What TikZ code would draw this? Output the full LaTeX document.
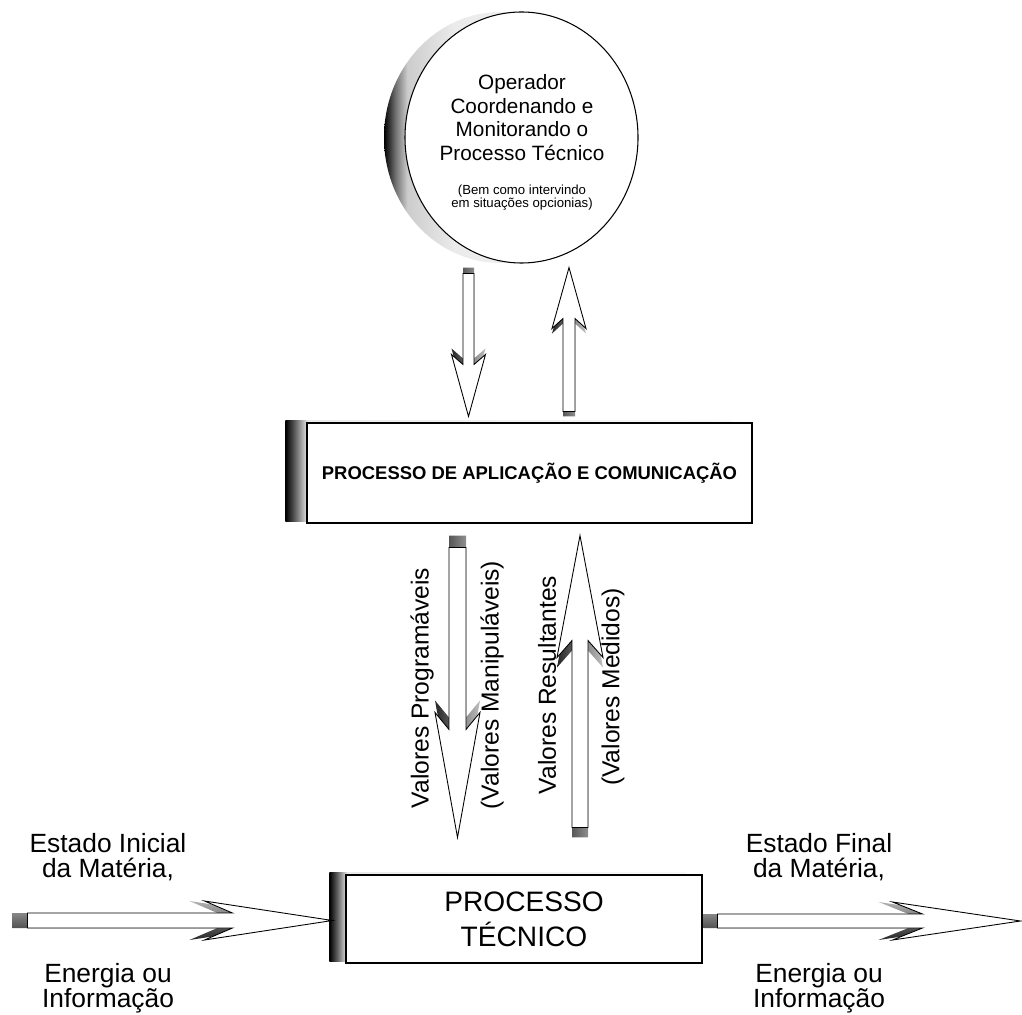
\documentclass[tikz,border=0pt]{standalone}
\usepackage{fontspec}
\setmainfont{Liberation Sans}
\usetikzlibrary{calc}
\usetikzlibrary{shapes.geometric}
\usetikzlibrary{backgrounds}

\pgfdeclarehorizontalshading{boxshade}{100bp}{color(0bp)=(black); color(25bp)=(black); color(26bp)=(black!65); color(27.5bp)=(black!8); color(100bp)=(white)}
\pgfdeclarehorizontalshading{moonshade}{100bp}{color(0bp)=(black); color(25bp)=(black); color(27.5bp)=(black!55); color(30bp)=(black!20); color(40bp)=(black!8); color(100bp)=(white)}

\tikzset{
  boxnode/.style={shape=rectangle, draw=black, fill=white, line width=0.6pt, inner sep=0pt, align=center},
  arrowbody/.style={draw=black, fill=white, line width=0.5pt},
  vshade/.style={left color=black!85, right color=black!25},
  hshade/.style={top color=black!30, bottom color=black!85},
  sidelbl/.style={font=\fontsize{15}{14.2}\selectfont, align=center, inner sep=0pt},
  vlbl/.style={font=\fontsize{14}{16}\selectfont, rotate=90, inner sep=0pt}
}

%% block arrow: from, to, shaft half, head half, head length, barb joint, shadow options
\newcommand{\blockarrow}[7]{%
  \coordinate (ba-h) at ($(#2)!#5!(#1)$);
  \coordinate (ba-j) at ($(#2)!#6!(#1)$);
  \path[#7] ($(#1)!#3!90:(#2)$) -- ($(ba-j)!#3!90:(#2)$) -- ($(ba-h)!#4!90:(#2)$) -- (#2) -- ($(ba-h)!#4!-90:(#2)$) -- ($(ba-j)!#3!-90:(#2)$) -- ($(#1)!#3!-90:(#2)$) -- cycle;
  \path[arrowbody] ($(#1)!#3!90:(#2)$) -- ($(ba-j)!#3!90:(#2)$) -- ($(ba-h)!#4!90:(#2)$) -- (#2) -- ($(ba-h)!#4!-90:(#2)$) -- ($(ba-j)!#3!-90:(#2)$) -- ($(#1)!#3!-90:(#2)$) -- cycle;
}

\begin{document}
\begin{tikzpicture}
      \useasboundingbox (0,0) rectangle (20.44,20.28);
      \node (oper) [ellipse, draw=black, fill=white, line width=0.6pt, minimum width=4.66cm, minimum height=5.02cm, inner sep=0pt] at (10.43,17.53) {};
      \node (opmain) [align=center, inner sep=0pt, font=\fontsize{11.8}{13.4}\selectfont] at (10.44,17.93) {Operador\\Coordenando e\\Monitorando o\\Processo Técnico};
      \node (opnote) [align=center, inner sep=0pt, font=\fontsize{7.5}{7.4}\selectfont] at (10.44,16.33) {(Bem como intervindo\\em situações opcionias)};
      \node (aplic) [boxnode, minimum width=8.9cm, minimum height=2cm, font=\bfseries\fontsize{10.5}{12}\selectfont] at (10.59,10.82) {PROCESSO DE APLICAÇÃO E COMUNICAÇÃO};
      \node (tecnico) [boxnode, minimum width=7.12cm, minimum height=1.76cm, font=\fontsize{16}{19.8}\selectfont] at (10.48,1.9) {PROCESSO\\TÉCNICO};
      \begin{scope}[on background layer]
        \shade[shading=moonshade] ([xshift=-0.42cm]oper.center) ellipse [x radius=2.33cm, y radius=2.51cm];
        \shade[shading=boxshade] ([shift={(-0.42,0.04)}]aplic.south west) rectangle ([shift={(-0.42,0.04)}]aplic.north east);
        \shade[shading=boxshade] ([shift={(-0.32,0.04)}]tecnico.south west) rectangle ([shift={(-0.32,0.04)}]tecnico.north east);
      \end{scope}
      \coordinate (cmdtop) at ($(oper.south)+(-1.06,-0.2)$);
      \coordinate (cmdbot) at ($(cmdtop |- aplic.north)+(0,0.12)$);
      \coordinate (fbbot) at ($(aplic.north)+(0.79,0.22)$);
      \coordinate (fbtop) at ($(fbbot |- oper.south)+(0,-0.08)$);
      \coordinate (prgtop) at ($(aplic.south)+(-1.44,-0.48)$);
      \coordinate (prgbot) at ($(prgtop |- tecnico.north)+(0,0.74)$);
      \coordinate (resbot) at ($(tecnico.north)+(1.12,0.94)$);
      \coordinate (restop) at ($(resbot |- aplic.south)+(0,-0.24)$);
      \coordinate (inend) at ($(tecnico.west)+(-0.26,-0.03)$);
      \coordinate (instart) at ($(inend)+(-6.1,0)$);
      \coordinate (outstart) at ($(tecnico.east)+(0.3,-0.04)$);
      \coordinate (outend) at ($(outstart)+(6.06,0)$);
      \blockarrow{cmdtop}{cmdbot}{0.11cm}{0.34cm}{1.24cm}{1.04cm}{vshade, transform canvas={shift={(0,0.12)}}}
      \blockarrow{fbbot}{fbtop}{0.12cm}{0.34cm}{1.22cm}{1.02cm}{vshade, transform canvas={shift={(0,-0.1)}}}
      \blockarrow{prgtop}{prgbot}{0.17cm}{0.45cm}{2.5cm}{2.16cm}{vshade, transform canvas={shift={(0,0.24)}}}
      \blockarrow{resbot}{restop}{0.16cm}{0.46cm}{2.44cm}{2.1cm}{vshade, transform canvas={shift={(0,-0.2)}}}
      \blockarrow{instart}{inend}{0.15cm}{0.39cm}{2.56cm}{2cm}{hshade, transform canvas={shift={(-0.3,0)}}}
      \blockarrow{outstart}{outend}{0.14cm}{0.38cm}{2.56cm}{1.96cm}{hshade, transform canvas={shift={(-0.28,0)}}}
      \node (prog) [vlbl] at (8.44,6.52) {Valores Programáveis};
      \node (manip) [vlbl] at (9.84,6.58) {(Valores Manipuláveis)};
      \node (result) [vlbl] at (10.94,6.58) {Valores Resultantes};
      \node (medid) [vlbl] at (12.26,6.54) {(Valores Medidos)};
      \node (inistate) [sidelbl] at (2.16,3.13) {Estado Inicial\\da Matéria,};
      \node (iniform) [sidelbl] at (2.16,0.52) {Energia ou\\Informação};
      \node (finstate) [sidelbl] at (16.38,3.13) {Estado Final\\da Matéria,};
      \node (finform) [sidelbl] at (16.38,0.52) {Energia ou\\Informação};
\end{tikzpicture}
\end{document}
